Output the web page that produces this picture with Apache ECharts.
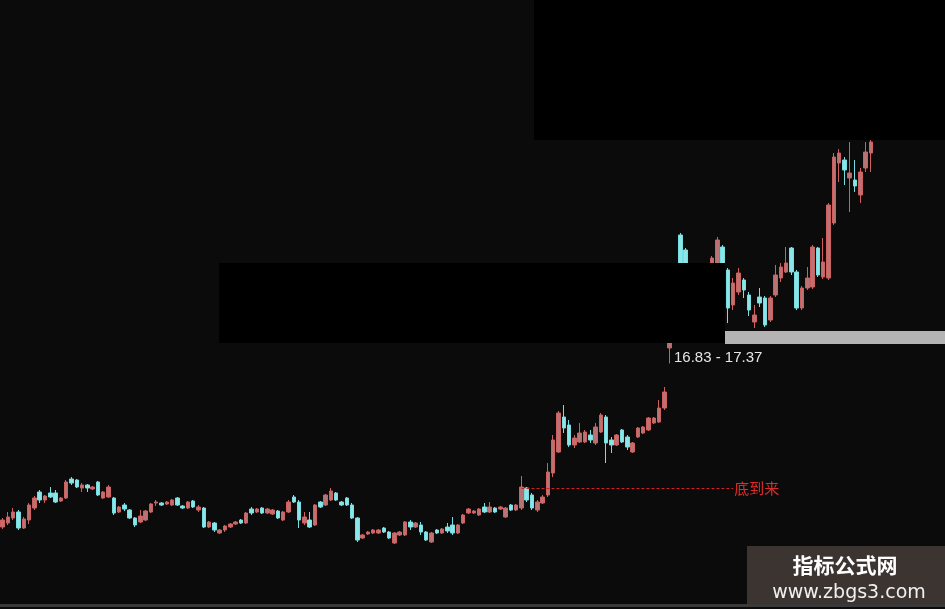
<!DOCTYPE html>
<html>
<head>
<meta charset="utf-8">
<script src="https://cdn.jsdelivr.net/npm/echarts@6/dist/echarts.min.js"></script>
<style>
html,body{margin:0;padding:0;background:#0b0b0b;}
#chart{width:945px;height:609px;}
</style>
</head>
<body>
<div id="chart"></div>
<script>
// ---- data (prices) ----
const opens = [8.65,8.85,9.1,9.4,8.6,9.0,9.6,10.4,10.0,10.35,
10.35,9.95,10.1,11.05,11.0,10.6,10.75,10.55,10.9,10.1,
10.15,10.1,9.4,9.75,9.5,9.1,8.9,9.0,9.4,9.85,
9.85,9.8,9.75,10.1,9.7,9.6,9.95,9.5,9.6,8.65,
8.85,8.35,8.5,8.65,8.8,9.0,8.85,9.55,9.4,9.6,
9.35,9.3,9.45,9.0,9.4,10.15,9.9,8.85,9.0,8.75,
9.9,9.75,10.0,10.35,9.9,10.1,9.75,9.1,8.1,8.3,
8.35,8.35,8.6,8.4,7.85,8.25,8.25,8.9,8.65,8.75,
8.4,7.9,8.5,8.35,8.65,8.75,8.35,8.85,9.35,9.35,
9.25,9.65,9.4,9.6,9.55,9.15,9.75,9.5,9.6,10.6,
10.25,9.5,9.85,10.25,11.35,12.4,14.15,13.75,12.75,12.9,
12.9,13.25,12.85,13.4,14.15,13.0,12.75,13.5,13.15,12.4,
13.15,13.35,13.5,13.85,13.9,14.6,17.6,19.75,23.25,22.5,
21.1,19.5,20.25,18.75,20.0,21.25,22.65,21.5,19.75,20.4,
21.0,20.25,18.9,20.15,20.1,19.0,20.25,21.1,21.4,22.6,
21.4,19.6,20.6,20.65,22.6,21.15,21.1,23.85,26.85,27.0,
26.1,26.0,25.25,26.6,27.35];
const closes = [9.0,9.15,9.4,8.6,9.05,9.75,10.1,10.0,10.2,10.15,
9.9,10.1,10.9,10.85,10.65,10.75,10.6,10.65,10.25,10.4,
10.65,9.35,9.65,9.55,9.1,8.75,9.2,9.45,9.8,9.9,
9.75,9.9,10.0,9.75,9.6,9.9,9.65,9.65,8.65,8.9,
8.5,8.5,8.7,8.8,8.9,8.85,9.35,9.35,9.55,9.35,
9.55,9.5,9.1,9.4,9.9,9.9,9.0,9.15,8.65,9.75,
9.65,10.25,10.45,10.0,9.75,9.75,9.1,8.0,8.25,8.4,
8.5,8.5,8.4,8.1,8.35,8.4,8.9,8.65,8.85,8.4,
8.0,8.35,8.35,8.55,8.45,8.35,8.75,9.25,9.55,9.45,
9.55,9.4,9.65,9.4,9.65,9.6,9.5,9.75,10.65,10.0,
9.6,9.9,10.15,11.4,13.0,14.35,13.6,12.75,13.1,13.35,
13.4,13.0,13.65,14.25,12.85,12.75,13.25,12.9,12.65,12.85,
13.6,13.65,14.1,14.1,14.6,15.4,20.0,21.0,20.5,20.9,
20.0,20.5,19.0,20.0,22.1,23.0,20.5,19.6,20.85,21.35,
20.5,19.5,19.25,19.85,18.75,20.1,21.25,21.65,21.85,21.4,
19.6,20.6,21.1,22.65,21.25,21.9,24.75,27.15,27.35,26.5,
26.35,25.7,26.4,27.4,27.9];
const lows = [8.55,8.75,9.0,8.5,8.55,8.8,9.5,9.85,9.85,10.1,
9.85,9.9,10.05,10.75,10.6,10.4,10.4,10.5,10.2,10.05,
10.1,9.25,9.35,9.45,9.05,8.65,8.85,8.95,9.35,9.7,
9.7,9.75,9.7,9.7,9.55,9.55,9.6,9.4,8.6,8.6,
8.4,8.3,8.4,8.6,8.75,8.8,8.8,9.25,9.35,9.3,
9.3,9.25,9.05,8.95,9.35,9.85,8.6,8.75,8.6,8.7,
9.6,9.7,9.95,9.95,9.7,9.7,9.05,7.9,8.05,8.25,
8.3,8.3,8.35,8.05,7.8,8.2,8.2,8.5,8.6,8.25,
7.95,7.85,8.3,8.3,8.35,8.25,8.3,8.8,9.3,9.3,
9.2,9.35,9.35,9.35,9.5,9.1,9.45,9.45,9.5,9.9,
9.5,9.4,9.8,10.15,11.15,12.35,13.35,12.65,12.6,12.85,
12.85,12.85,12.75,13.35,11.85,12.35,12.7,12.85,12.5,12.35,
13.1,13.3,13.45,13.8,13.85,14.5,16.83,19.0,20.0,20.4,
19.75,19.1,18.75,18.25,19.75,21.0,20.0,18.85,19.5,20.25,
20.1,19.2,18.6,19.65,18.65,18.9,20.15,20.9,21.35,21.25,
19.5,19.5,20.5,20.55,21.15,21.05,21.0,23.75,25.9,25.75,
24.4,25.4,24.85,26.4,26.4];
const highs = [9.1,9.4,9.6,9.5,9.15,9.85,10.2,10.5,10.25,10.65,
10.5,10.15,11.0,11.15,11.05,10.85,10.8,10.7,10.95,10.45,
10.75,10.15,9.7,9.85,9.55,9.15,9.5,9.5,9.85,10.0,
9.9,9.95,10.05,10.15,9.75,9.95,10.0,9.75,9.65,8.95,
8.9,8.55,8.75,8.85,8.95,9.05,9.4,9.65,9.6,9.65,
9.6,9.55,9.5,9.45,10.0,10.25,10.0,9.4,9.4,9.8,
9.95,10.3,10.6,10.4,9.95,10.15,9.85,9.15,8.3,8.45,
8.55,8.55,8.65,8.45,8.4,8.45,8.95,9.0,8.9,8.9,
8.45,8.4,8.55,8.6,8.85,9.15,8.8,9.3,9.6,9.5,
9.6,9.85,9.9,9.65,9.7,9.65,9.8,9.8,11.2,10.65,
10.35,10.0,10.25,11.85,13.25,14.45,14.75,14.0,13.25,13.85,
13.5,13.5,13.85,14.35,14.25,13.15,13.3,13.55,13.25,12.9,
13.65,13.7,14.15,14.15,15.0,15.65,20.25,21.5,23.35,22.6,
21.4,20.75,20.5,20.25,22.2,23.15,22.75,21.6,21.1,21.6,
21.1,20.4,19.75,20.6,20.2,20.2,21.75,21.85,22.65,22.65,
21.5,20.7,21.65,22.75,22.65,23.1,24.85,27.35,27.55,27.15,
27.9,27.0,26.6,27.9,28.5];
const categories = opens.map((_, i) => 'D' + (i + 1));
const bottomSignalStart = 98;   // candle where the dashed line starts
const bottomSignalEnd = 138;
const bottomSignalPrice = 10.6;
const bottomSignalText = '底到来';
const rangeText = '16.83 - 17.37';
const wmTitle = '指标公式网';
const wmUrl = 'www.zbgs3.com';

const ohlc = opens.map((o, i) => [o, closes[i], lows[i], highs[i]]);

const chart = echarts.init(document.getElementById('chart'), null, {renderer: 'canvas'});
chart.setOption({
  animation: false,
  backgroundColor: '#0b0b0b',
  grid: {left: -1, top: 0, width: 874.5, height: 609, containLabel: false},
  xAxis: {type: 'category', data: categories, show: false, boundaryGap: true},
  yAxis: {type: 'value', min: 4.55, max: 35, show: false, splitLine: {show: false}},
  series: [{
    type: 'candlestick',
    data: ohlc,
    barWidth: 4,
    itemStyle: {
      color: '#b87474', borderColor: '#cf5f5f',
      color0: '#8ae6e8', borderColor0: '#78dde0',
      borderColorDoji: '#cf5f5f',
      borderWidth: 1
    },
    markLine: {
      silent: true,
      symbol: ['none', 'none'],
      lineStyle: {color: '#cc2222', type: [3, 2], width: 1},
      label: {show: true, position: 'end', formatter: bottomSignalText, color: '#e02a2a', fontSize: 15, distance: 1,
              fontFamily: 'Noto Sans CJK SC'},
      data: [[{coord: [bottomSignalStart, bottomSignalPrice]}, {coord: [bottomSignalEnd, bottomSignalPrice]}]]
    }
  }],
  graphic: [
    {type: 'rect', z: 100, shape: {x: 219, y: 263, width: 506, height: 80}, style: {fill: '#000000'}},
    {type: 'rect', z: 100, shape: {x: 725, y: 331, width: 220, height: 13}, style: {fill: '#b4b4b4'}},
    {type: 'rect', z: 100, shape: {x: 534, y: 0, width: 411, height: 140}, style: {fill: '#000000'}},
    {type: 'text', z: 101, left: 674, top: 350, style: {text: rangeText, fill: '#e6e6e6', font: '15px "Liberation Sans Narrow", "Liberation Sans", Arial, sans-serif'}},
    {type: 'rect', z: 100, shape: {x: 0, y: 604, width: 945, height: 3}, style: {fill: '#3a3a3a'}},
    {type: 'rect', z: 101, shape: {x: 747, y: 546, width: 198, height: 58}, style: {fill: '#3b3431'}},
    {type: 'text', z: 102, style: {x: 845, y: 565, text: wmTitle, fill: '#ffffff', align: 'center', verticalAlign: 'middle',
      font: 'bold 21px "Noto Sans CJK SC", sans-serif'}},
    {type: 'text', z: 102, style: {x: 849, y: 593, text: wmUrl, fill: '#f0f0f0', align: 'center', verticalAlign: 'middle',
      font: '19px "DejaVu Sans", sans-serif'}}
  ]
});
</script>
</body>
</html>
